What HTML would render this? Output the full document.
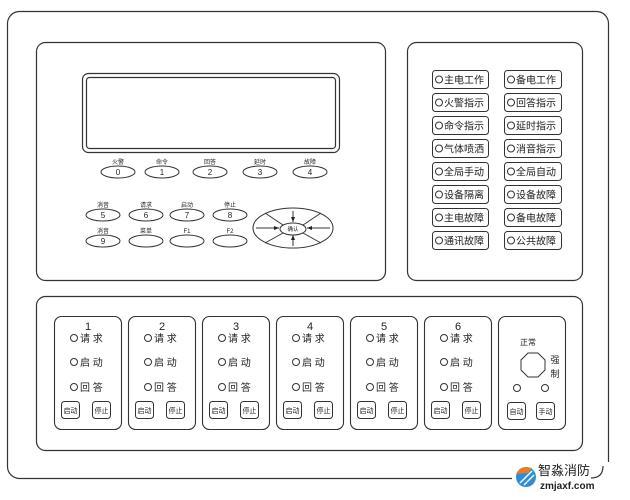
<!DOCTYPE html>
<html><head><meta charset="utf-8"><style>html,body{margin:0;padding:0;background:#fff}svg{display:block}text{font-family:"Liberation Sans","Noto Sans CJK SC",sans-serif;fill:#222}</style></head><body>
<svg width="630" height="500" viewBox="0 0 630 500" xmlns="http://www.w3.org/2000/svg">
<g fill="none" stroke="#333" stroke-width="1.2">
<rect x="7.5" y="11.5" width="601" height="467" rx="12"/>
<rect x="36.5" y="42.5" width="349" height="238" rx="9"/>
<rect x="407.5" y="42.5" width="175" height="238" rx="9"/>
<rect x="36.5" y="296.5" width="546" height="154" rx="9"/>
<rect x="82.5" y="73.5" width="257" height="79" rx="6"/>
<rect x="86.5" y="77.5" width="249" height="71" rx="3"/>
</g>
<g fill="none" stroke="#333" stroke-width="1">
<ellipse cx="118" cy="172" rx="17" ry="6"/><ellipse cx="162" cy="172" rx="17" ry="6"/><ellipse cx="210" cy="172" rx="17" ry="6"/><ellipse cx="260" cy="172" rx="17" ry="6"/><ellipse cx="310" cy="172" rx="17" ry="6"/>
<ellipse cx="103" cy="215" rx="17" ry="6"/><ellipse cx="146" cy="215" rx="17" ry="6"/><ellipse cx="187" cy="215" rx="17" ry="6"/><ellipse cx="230" cy="215" rx="17" ry="6"/>
<ellipse cx="103" cy="241" rx="17" ry="6"/><ellipse cx="146" cy="241" rx="17" ry="6"/><ellipse cx="187" cy="241" rx="17" ry="6"/><ellipse cx="230" cy="241" rx="17" ry="6"/>
<ellipse cx="293" cy="228" rx="40" ry="20"/><ellipse cx="293" cy="229" rx="13" ry="6"/>
<line x1="283" y1="225" x2="265" y2="213"/><line x1="303" y1="225" x2="321" y2="213"/><line x1="283" y1="233" x2="265" y2="243"/><line x1="303" y1="233" x2="321" y2="243"/>
<line x1="293" y1="211" x2="293" y2="222"/><line x1="293" y1="235" x2="293" y2="246"/><line x1="256" y1="228" x2="279" y2="228"/><line x1="307" y1="228" x2="330" y2="228"/>
</g>
<g fill="#222"><path d="M293 222l-2-5h4z"/><path d="M293 235l-2 5h4z"/><path d="M279 228l-5-2v4z"/><path d="M307 228l5-2v4z"/></g>
<g font-size="6" text-anchor="middle">
<text x="118" y="164">火警</text><text x="162" y="164">命令</text><text x="210" y="164">回答</text><text x="260" y="164">延时</text><text x="310" y="164">故障</text>
<text x="103" y="207">消音</text><text x="146" y="207">请求</text><text x="187" y="207">启动</text><text x="230" y="207">停止</text>
<text x="103" y="233">消音</text><text x="146" y="233">菜单</text><text x="187" y="233">F1</text><text x="230" y="233">F2</text>
<text x="293" y="231" font-size="5.5">确认</text>
</g>
<g font-size="8" text-anchor="middle">
<text x="118" y="175">0</text><text x="162" y="175">1</text><text x="210" y="175">2</text><text x="260" y="175">3</text><text x="310" y="175">4</text>
<text x="103" y="218">5</text><text x="146" y="218">6</text><text x="187" y="218">7</text><text x="230" y="218">8</text><text x="103" y="244">9</text>
</g>
<g stroke="#333" fill="none">
<rect x="432.5" y="70.5" width="56" height="18" rx="3"/><rect x="504.5" y="70.5" width="57" height="18" rx="3"/>
<rect x="432.5" y="93.5" width="56" height="18" rx="3"/><rect x="504.5" y="93.5" width="57" height="18" rx="3"/>
<rect x="432.5" y="116.5" width="56" height="18" rx="3"/><rect x="504.5" y="116.5" width="57" height="18" rx="3"/>
<rect x="432.5" y="139.5" width="56" height="18" rx="3"/><rect x="504.5" y="139.5" width="57" height="18" rx="3"/>
<rect x="432.5" y="162.5" width="56" height="18" rx="3"/><rect x="504.5" y="162.5" width="57" height="18" rx="3"/>
<rect x="432.5" y="185.5" width="56" height="18" rx="3"/><rect x="504.5" y="185.5" width="57" height="18" rx="3"/>
<rect x="432.5" y="208.5" width="56" height="18" rx="3"/><rect x="504.5" y="208.5" width="57" height="18" rx="3"/>
<rect x="432.5" y="231.5" width="56" height="18" rx="3"/><rect x="504.5" y="231.5" width="57" height="18" rx="3"/>
<circle cx="439" cy="79.5" r="3.5"/><circle cx="511" cy="79.5" r="3.5"/>
<circle cx="439" cy="102.5" r="3.5"/><circle cx="511" cy="102.5" r="3.5"/>
<circle cx="439" cy="125.5" r="3.5"/><circle cx="511" cy="125.5" r="3.5"/>
<circle cx="439" cy="148.5" r="3.5"/><circle cx="511" cy="148.5" r="3.5"/>
<circle cx="439" cy="171.5" r="3.5"/><circle cx="511" cy="171.5" r="3.5"/>
<circle cx="439" cy="194.5" r="3.5"/><circle cx="511" cy="194.5" r="3.5"/>
<circle cx="439" cy="217.5" r="3.5"/><circle cx="511" cy="217.5" r="3.5"/>
<circle cx="439" cy="240.5" r="3.5"/><circle cx="511" cy="240.5" r="3.5"/>
</g>
<g font-size="10">
<text x="444" y="83.5">主电工作</text><text x="516" y="83.5">备电工作</text>
<text x="444" y="106.5">火警指示</text><text x="516" y="106.5">回答指示</text>
<text x="444" y="129.5">命令指示</text><text x="516" y="129.5">延时指示</text>
<text x="444" y="152.5">气体喷洒</text><text x="516" y="152.5">消音指示</text>
<text x="444" y="175.5">全局手动</text><text x="516" y="175.5">全局自动</text>
<text x="444" y="198.5">设备隔离</text><text x="516" y="198.5">设备故障</text>
<text x="444" y="221.5">主电故障</text><text x="516" y="221.5">备电故障</text>
<text x="444" y="244.5">通讯故障</text><text x="516" y="244.5">公共故障</text>
</g>
<g stroke="#333" fill="none" stroke-width="1.1">
<rect x="54.5" y="316.5" width="67" height="113" rx="7"/><rect x="128.5" y="316.5" width="67" height="113" rx="7"/>
<rect x="202.5" y="316.5" width="67" height="113" rx="7"/><rect x="276.5" y="316.5" width="67" height="113" rx="7"/>
<rect x="350.5" y="316.5" width="67" height="113" rx="7"/><rect x="424.5" y="316.5" width="67" height="113" rx="7"/>
<rect x="498.5" y="316.5" width="67" height="113" rx="7"/>
</g>
<g stroke="#333" fill="none">
<rect x="61.5" y="401.5" width="18" height="17" rx="3"/><rect x="92.5" y="401.5" width="18" height="17" rx="3"/>
<rect x="135.5" y="401.5" width="18" height="17" rx="3"/><rect x="166.5" y="401.5" width="18" height="17" rx="3"/>
<rect x="209.5" y="401.5" width="18" height="17" rx="3"/><rect x="240.5" y="401.5" width="18" height="17" rx="3"/>
<rect x="283.5" y="401.5" width="18" height="17" rx="3"/><rect x="314.5" y="401.5" width="18" height="17" rx="3"/>
<rect x="357.5" y="401.5" width="18" height="17" rx="3"/><rect x="388.5" y="401.5" width="18" height="17" rx="3"/>
<rect x="431.5" y="401.5" width="18" height="17" rx="3"/><rect x="462.5" y="401.5" width="18" height="17" rx="3"/>
<rect x="507.5" y="402.5" width="18" height="17" rx="3"/><rect x="536.5" y="402.5" width="18" height="17" rx="3"/>
<polygon points="528,353 538,353 545,360 545,370 538,377 528,377 521,370 521,360"/>
<circle cx="517" cy="388" r="3.5"/><circle cx="545" cy="388" r="3.5"/>
<circle cx="74" cy="338" r="3.5"/><circle cx="74" cy="362" r="3.5"/><circle cx="74" cy="387" r="3.5"/>
<circle cx="148" cy="338" r="3.5"/><circle cx="148" cy="362" r="3.5"/><circle cx="148" cy="387" r="3.5"/>
<circle cx="222" cy="338" r="3.5"/><circle cx="222" cy="362" r="3.5"/><circle cx="222" cy="387" r="3.5"/>
<circle cx="296" cy="338" r="3.5"/><circle cx="296" cy="362" r="3.5"/><circle cx="296" cy="387" r="3.5"/>
<circle cx="370" cy="338" r="3.5"/><circle cx="370" cy="362" r="3.5"/><circle cx="370" cy="387" r="3.5"/>
<circle cx="444" cy="338" r="3.5"/><circle cx="444" cy="362" r="3.5"/><circle cx="444" cy="387" r="3.5"/>
</g>
<g font-size="11" text-anchor="middle">
<text x="88" y="330">1</text><text x="162" y="330">2</text><text x="236" y="330">3</text><text x="310" y="330">4</text><text x="384" y="330">5</text><text x="458" y="330">6</text>
</g>
<g font-size="10">
<text x="80" y="342">请 求</text><text x="80" y="366">启 动</text><text x="80" y="391">回 答</text>
<text x="154" y="342">请 求</text><text x="154" y="366">启 动</text><text x="154" y="391">回 答</text>
<text x="228" y="342">请 求</text><text x="228" y="366">启 动</text><text x="228" y="391">回 答</text>
<text x="302" y="342">请 求</text><text x="302" y="366">启 动</text><text x="302" y="391">回 答</text>
<text x="376" y="342">请 求</text><text x="376" y="366">启 动</text><text x="376" y="391">回 答</text>
<text x="450" y="342">请 求</text><text x="450" y="366">启 动</text><text x="450" y="391">回 答</text>
</g>
<g font-size="7" text-anchor="middle">
<text x="70.5" y="413">启动</text><text x="101.5" y="413">停止</text>
<text x="144.5" y="413">启动</text><text x="175.5" y="413">停止</text>
<text x="218.5" y="413">启动</text><text x="249.5" y="413">停止</text>
<text x="292.5" y="413">启动</text><text x="323.5" y="413">停止</text>
<text x="366.5" y="413">启动</text><text x="397.5" y="413">停止</text>
<text x="440.5" y="413">启动</text><text x="471.5" y="413">停止</text>
<text x="516.5" y="414">自动</text><text x="545.5" y="414">手动</text>
<text x="528" y="345" font-size="8">正常</text>
<text x="555" y="363" font-size="9">强</text><text x="555" y="377" font-size="9">制</text>
</g>
<rect x="512" y="462" width="100" height="32" fill="#fff"/>
<path d="M603 466 q0 12 -12 12" fill="none" stroke="#333" stroke-width="1.2"/>
<circle cx="526" cy="477" r="10" fill="#2a8fd6"/>
<path d="M516 474 q5 -9 16 -6 l-4 5z" fill="#f07b1e"/>
<g stroke="#fff" stroke-width="1.5"><line x1="520" y1="483" x2="532" y2="471"/><line x1="524" y1="485" x2="534" y2="475"/></g>
<text x="538" y="475" font-size="13" fill="#222">智淼消防</text>
<text x="540" y="489" font-size="10" font-family="Liberation Mono,monospace" font-weight="bold" fill="#222">zmjaxf.com</text>
</svg>
</body></html>
